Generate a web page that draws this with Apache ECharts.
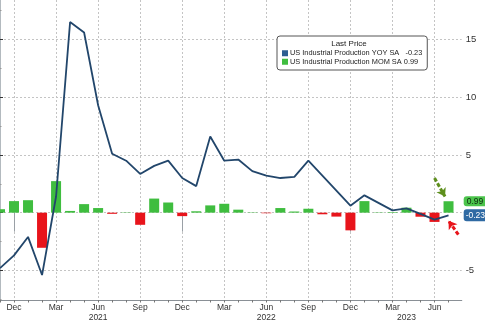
<!DOCTYPE html>
<html>
<head>
<meta charset="utf-8">
<script src="https://cdn.jsdelivr.net/npm/echarts@6/dist/echarts.min.js"></script>
<style>
html,body{margin:0;padding:0;background:#fff;}
#c{width:485px;height:323px;}
</style>
</head>
<body>
<div id="c"></div>
<script>
// ---- data ----
const months = ['2020-11','2020-12','2021-01','2021-02','2021-03','2021-04','2021-05','2021-06','2021-07','2021-08','2021-09','2021-10','2021-11','2021-12',
  '2022-01','2022-02','2022-03','2022-04','2022-05','2022-06','2022-07','2022-08','2022-09','2022-10','2022-11','2022-12',
  '2023-01','2023-02','2023-03','2023-04','2023-05','2023-06','2023-07'];
const yoy = [-4.8,-3.7,-2.1,-5.4,1.4,16.5,15.6,9.3,5.1,4.5,3.35,4.05,4.5,3.0,
  2.3,6.6,4.5,4.6,3.6,3.2,3.0,3.1,4.5,3.2,1.9,0.6,
  1.5,0.85,0.2,0.37,-0.1,-0.6,-0.23];
const mom = [0.3,1.0,1.08,-3.04,2.73,0.15,0.74,0.4,-0.1,0.03,-1.05,1.22,0.88,-0.3,
  0.12,0.63,0.77,0.26,0.03,-0.05,0.4,0.1,0.34,-0.14,-0.34,-1.53,
  1.0,0.03,0.05,0.43,-0.35,-0.8,0.99];
const monthAbbr = {'01':'Jan','02':'Feb','03':'Mar','04':'Apr','05':'May','06':'Jun','07':'Jul','08':'Aug','09':'Sep','10':'Oct','11':'Nov','12':'Dec'};
const quarterMonths = ['12','03','06','09'];
const yearLabels = {'2021-06':'2021','2022-06':'2022','2023-04':'2023'};
const yearSeparators = ['2020-12','2021-12','2022-12'];
const yTickLabels = [-5,5,10,15];
const yTicks = [-5,0,5,10,15];
const yMinorTicks = [-7.5,-2.5,2.5,7.5,12.5,17.5];
const yoyName = 'US Industrial Production YOY SA';
const momName = 'US Industrial Production MOM SA';
const lastYoy = -0.23, lastMom = 0.99;

// ---- derived ----
const idx = months.map((m,i)=>i);
const quarterIdx = idx.filter(i => quarterMonths.includes(months[i].slice(5)));
const labelIdx = idx.filter(i => quarterMonths.includes(months[i].slice(5)) || yearLabels[months[i]]);
const sepIdx = yearSeparators.map(m => months.indexOf(m));

const FONT = "'Liberation Sans Narrow','Liberation Sans',Arial,sans-serif";
const GREEN = '#3fbd3f', RED = '#e8141b', NAVY = '#22466b';
const XMIN = 0, XMAX = 32.94, YMIN = -7.56, YMAX = 18.41;
const CLEAR = 'rgba(0,0,0,0)';

const chart = echarts.init(document.getElementById('c'), null, {renderer:'canvas'});
chart.setOption({
  animation:false,
  backgroundColor:'#fff',
  grid:{left:-1.77, right:23.3, top:0, bottom:18.3, containLabel:false},
  title:{text:'Last Price', left:349, top:40, textAlign:'center',
    textStyle:{fontSize:8, fontWeight:'normal', color:'#222', fontFamily:FONT}, padding:0, z:10},
  legend:{
    orient:'vertical', left:277, top:36,
    padding:[13,5,4,5], itemGap:0, itemWidth:6, itemHeight:6,
    backgroundColor:'#fff', borderColor:'#555', borderWidth:1, borderRadius:3,
    textStyle:{fontSize:7.4, color:'#222', fontFamily:FONT, lineHeight:8.5, padding:[0,0,0,-3]},
    data:[{name:yoyName, icon:'rect', itemStyle:{color:'#2d5e91'}},{name:momName, icon:'rect', itemStyle:{color:GREEN}}],
    formatter: n => n === yoyName ? n + '   ' + lastYoy.toFixed(2) : n + ' ' + lastMom.toFixed(2),
    selectedMode:false
  },
  xAxis:[
    {type:'value', min:XMIN, max:XMAX, position:'bottom',
     axisLine:{show:true, onZero:false, lineStyle:{color:'#8a9096', width:1.2}},
     axisTick:{show:true, length:2.5, customValues:idx, lineStyle:{color:'#777'}},
     splitLine:{show:false},
     axisLabel:{customValues:labelIdx, margin:3, fontSize:8.5, color:'#333', fontFamily:FONT, lineHeight:10,
       formatter: v => { const m = months[Math.round(v)]; if(!m) return '';
         const mm = m.slice(5); const lab = quarterMonths.includes(mm) ? monthAbbr[mm] : ' ';
         return yearLabels[m] ? lab + '\n' + yearLabels[m] : lab; }}},
    {type:'value', min:XMIN, max:XMAX, position:'bottom',
     axisLine:{show:false}, axisLabel:{show:false},
     axisTick:{show:false, customValues:quarterIdx},
     splitLine:{show:true, lineStyle:{color:'#c4c4c4', type:[2,2], width:1}}},
    {type:'value', min:XMIN, max:XMAX, position:'bottom',
     axisLine:{show:false}, axisLabel:{show:false}, splitLine:{show:false},
     axisTick:{show:true, customValues:sepIdx, length:19, lineStyle:{color:'#9aa0a6', width:1}}}
  ],
  yAxis:[
    {type:'value', min:YMIN, max:YMAX, position:'right',
     axisLine:{show:true, lineStyle:{color:'#9aa3aa', width:1.5}},
     axisTick:{show:true, length:3, customValues:yTicks, lineStyle:{color:'#333', width:1}},
     axisLabel:{customValues:yTickLabels, margin:4, fontSize:9.5, color:'#333', fontFamily:FONT},
     splitLine:{show:true, lineStyle:{color:'#c4c4c4', type:[2,2], width:1}}},
    {type:'value', min:YMIN, max:YMAX, position:'right',
     axisLine:{show:false}, axisLabel:{show:false}, splitLine:{show:false},
     axisTick:{show:true, length:1.5, customValues:yMinorTicks, lineStyle:{color:'#999'}}}
  ],
  series:[
    {name:momName, type:'bar', xAxisIndex:0, yAxisIndex:0, barWidth:10, z:2,
     itemStyle:{color:GREEN},
     data: mom.map((v,i)=>({value:[i,v], itemStyle:{color: v<0 ? RED : GREEN}})),
     markLine:{silent:true, symbol:['none','none'], z:6, precision:2,
       data:[
         {yAxis:lastMom, lineStyle:{color:CLEAR, width:0},
          label:{show:true, position:'end', distance:2, formatter:lastMom.toFixed(2), color:'#0d2a0d', fontSize:8.5,
            fontFamily:FONT, backgroundColor:'#4cc44c', padding:[1,4,0,3], borderRadius:3}},
         {yAxis:lastYoy, lineStyle:{color:CLEAR, width:0},
          label:{show:true, position:'end', distance:2, formatter:lastYoy.toFixed(2), color:'#fff', fontSize:8.5,
            fontFamily:FONT, backgroundColor:'#2f6aa3', padding:[2,4,1,2], borderRadius:3}},
         [{coord:[31.0,3.0], symbol:'none', lineStyle:{color:'#5e8f1d', width:3, type:[4,2]}, label:{show:false}},
          {coord:[31.75,1.4], symbol:'arrow', symbolSize:8}],
         [{coord:[32.7,-1.9], symbol:'none', lineStyle:{color:RED, width:3, type:[4,2]}, label:{show:false}},
          {coord:[32.0,-0.7], symbol:'arrow', symbolSize:8}]
       ]}},
    {name:yoyName, type:'line', xAxisIndex:0, yAxisIndex:0, z:4, showSymbol:false, symbol:'none',
     lineStyle:{color:NAVY, width:1.8}, itemStyle:{color:NAVY},
     data: yoy.map((v,i)=>[i,v])}
  ]
});
</script>
</body>
</html>
